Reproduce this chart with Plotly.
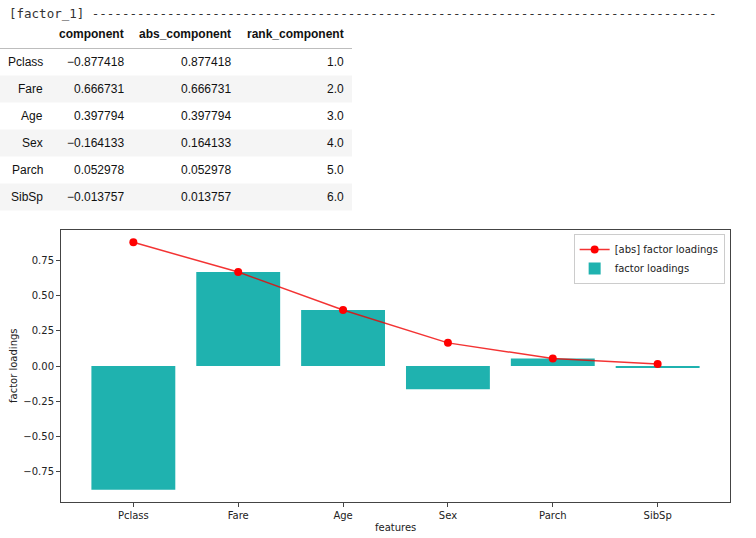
import plotly.graph_objects as go

features = ["Pclass", "Fare", "Age", "Sex", "Parch", "SibSp"]
component = [-0.877418, 0.666731, 0.397794, -0.164133, 0.052978, -0.013757]
abs_component = [0.877418, 0.666731, 0.397794, 0.164133, 0.052978, 0.013757]
rank_component = [1.0, 2.0, 3.0, 4.0, 5.0, 6.0]
table_headers = ["component", "abs_component", "rank_component"]
y_ticks = [-0.75, -0.5, -0.25, 0.0, 0.25, 0.5, 0.75]

W, H = 756, 538
ML, MR, MT, MB = 61, 26, 230, 36
PW, PH = W - ML - MR, H - MT - MB


def xp(px):
    return (px - ML) / PW


def yp(py):
    return (H - MB - py) / PH


fig = go.Figure()
fig.add_trace(go.Bar(
    x=list(range(len(features))), y=component, name="factor loadings",
    marker=dict(color="#1fb2af", line=dict(width=0)), width=0.8,
))
fig.add_trace(go.Scatter(
    x=list(range(len(features))), y=abs_component, name="[abs] factor loadings",
    mode="lines+markers", line=dict(color="rgba(240,0,0,0.8)", width=1.5),
    marker=dict(color="red", size=8),
))

annotations = []
shapes = []
mono = dict(family="DejaVu Sans Mono", size=12.5, color="#333")
annotations.append(dict(
    xref="paper", yref="paper", x=xp(7), y=yp(13), xanchor="left", yanchor="middle",
    text="[factor_1] " + "-" * 83, showarrow=False, font=mono,
))

tf = dict(family="Liberation Sans, Arial", size=12, color="#111")
col_right = [45, 126, 233, 346]
header_y = 34
row_y0, row_h = 62, 27

for j, h in enumerate(table_headers):
    annotations.append(dict(xref="paper", yref="paper", x=xp(col_right[j + 1]), y=yp(header_y),
                            xanchor="right", yanchor="middle", text="<b>%s</b>" % h,
                            showarrow=False, font=tf))
shapes.append(dict(type="line", xref="paper", yref="paper", x0=xp(0), x1=xp(352),
                   y0=yp(48.5), y1=yp(48.5), line=dict(color="#bdbdbd", width=1)))

for i, f in enumerate(features):
    cy = row_y0 + i * row_h
    if i % 2 == 1:
        shapes.append(dict(type="rect", xref="paper", yref="paper", x0=xp(0), x1=xp(352),
                           y0=yp(cy - row_h / 2), y1=yp(cy + row_h / 2),
                           fillcolor="#f5f5f5", line=dict(width=0), layer="below"))
    vals = [f, "%.6f" % component[i], "%.6f" % abs_component[i], "%.1f" % rank_component[i]]
    vals[1] = vals[1].replace("-", "\u2212")
    for j, v in enumerate(vals):
        annotations.append(dict(xref="paper", yref="paper", x=xp(col_right[j]), y=yp(cy),
                                xanchor="right", yanchor="middle", text=v,
                                showarrow=False, font=tf))

axfont = dict(family="DejaVu Sans", size=10, color="#222")
# axis titles as annotations
annotations.append(dict(xref="paper", yref="paper", x=0.5, y=yp(527), xanchor="center",
                        yanchor="middle", text="features", showarrow=False, font=axfont))
annotations.append(dict(xref="paper", yref="paper", x=xp(13), y=0.5, xanchor="center",
                        yanchor="middle", text="factor loadings", textangle=-90,
                        showarrow=False, font=axfont))

fig.update_layout(
    width=W, height=H, margin=dict(l=ML, r=MR, t=MT, b=MB),
    paper_bgcolor="white", plot_bgcolor="white",
    font=axfont,
    showlegend=True,
    legend=dict(x=0.992, y=0.985, xanchor="right", yanchor="top",
                bgcolor="rgba(255,255,255,0.8)", bordercolor="#cccccc", borderwidth=1,
                font=dict(family="DejaVu Sans", size=10, color="#222"),
                traceorder="reversed", tracegroupgap=0),
    xaxis=dict(range=[-0.69, 5.69], tickvals=list(range(len(features))), ticktext=features,
               showgrid=False, zeroline=False, showline=True, mirror=True, automargin=False,
               linecolor="#444", linewidth=1, ticks="outside", ticklen=4, tickcolor="#444"),
    yaxis=dict(range=[-0.965, 0.965], tickvals=y_ticks, tickformat=".2f", automargin=False,
               showgrid=False, zeroline=False, showline=True, mirror=True,
               linecolor="#444", linewidth=1, ticks="outside", ticklen=4, tickcolor="#444"),
    annotations=annotations, shapes=shapes,
)

fig.write_html("out.html")
